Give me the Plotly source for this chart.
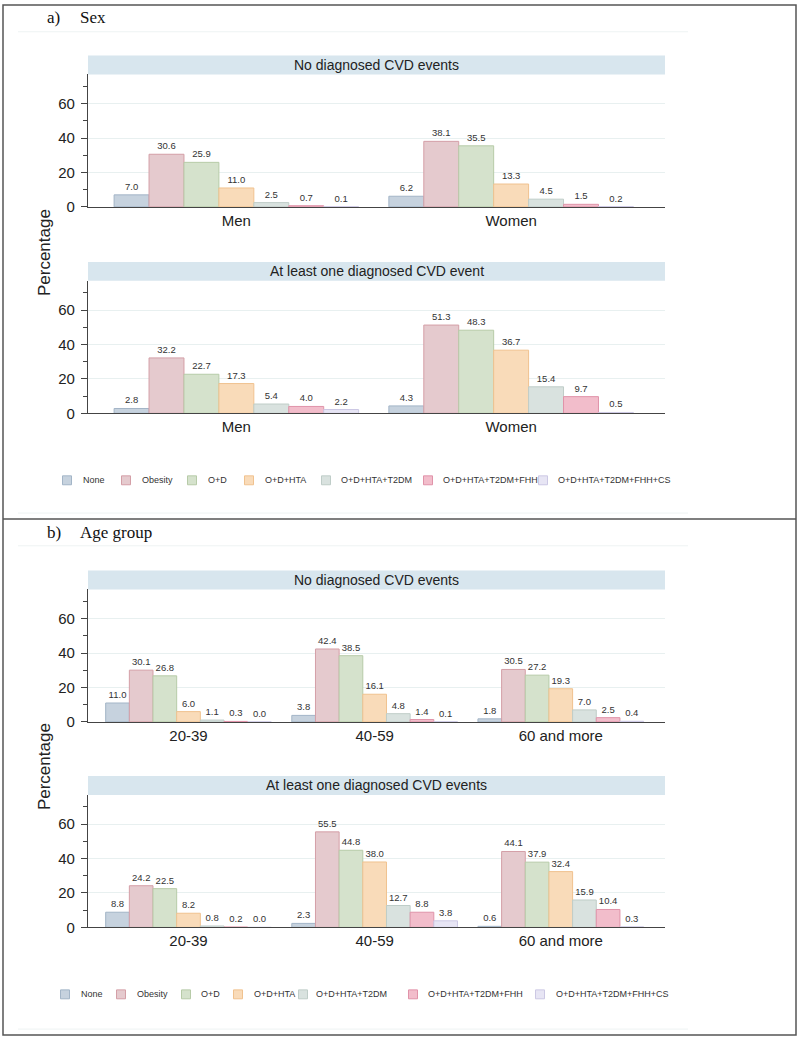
import plotly.graph_objects as go

# ---------------- data ----------------
series = ["None", "Obesity", "O+D", "O+D+HTA", "O+D+HTA+T2DM",
          "O+D+HTA+T2DM+FHH", "O+D+HTA+T2DM+FHH+CS"]

sex_cats = ["Men", "Women"]
age_cats = ["20-39", "40-59", "60 and more"]

# values per series (rows follow `series`), columns follow categories
sex_no_cvd = [
    [7.0, 6.2],
    [30.6, 38.1],
    [25.9, 35.5],
    [11.0, 13.3],
    [2.5, 4.5],
    [0.7, 1.5],
    [0.1, 0.2],
]
sex_cvd = [
    [2.8, 4.3],
    [32.2, 51.3],
    [22.7, 48.3],
    [17.3, 36.7],
    [5.4, 15.4],
    [4.0, 9.7],
    [2.2, 0.5],
]
age_no_cvd = [
    [11.0, 3.8, 1.8],
    [30.1, 42.4, 30.5],
    [26.8, 38.5, 27.2],
    [6.0, 16.1, 19.3],
    [1.1, 4.8, 7.0],
    [0.3, 1.4, 2.5],
    [0.0, 0.1, 0.4],
]
age_cvd = [
    [8.8, 2.3, 0.6],
    [24.2, 55.5, 44.1],
    [22.5, 44.8, 37.9],
    [8.2, 38.0, 32.4],
    [0.8, 12.7, 15.9],
    [0.2, 8.8, 10.4],
    [0.0, 3.8, 0.3],
]

y_ticks = [0, 20, 40, 60]

# ---------------- styles ----------------
fills = ["#c6d2de", "#e5cace", "#d5e2cc", "#f9dbb9", "#d9e2df", "#f2bdcb", "#e7e5f4"]
edges = ["#a3b5c7", "#d49fa7", "#b7cba8", "#f0c28f", "#bfcdc8", "#e093a9", "#ccc8e4"]
strip_fill = "#d8e6ee"
axis_col = "#444444"
grid_col = "#e8f0f0"
text_col = "#222222"
SANS = "Liberation Sans, Arial, sans-serif"
SERIF = "Liberation Serif, Times New Roman, serif"

W, H = 800, 1047
def px(x):
    return x / W
def py(y):
    return 1 - y / H

PLOT_L, PLOT_R = 88, 665
STRIP_H = 19
# (top, bottom) in pixels of each plot area
panels = [
    dict(cats=sex_cats, vals=sex_no_cvd, title="No diagnosed CVD events", top=75, bot=208.5),
    dict(cats=sex_cats, vals=sex_cvd, title="At least one diagnosed CVD event", top=283, bot=416.5),
    dict(cats=age_cats, vals=age_no_cvd, title="No diagnosed CVD events", top=594, bot=727.5),
    dict(cats=age_cats, vals=age_cvd, title="At least one diagnosed CVD events", top=801, bot=934.5),
]

fig = go.Figure()
layout = dict(
    width=W, height=H, autosize=False,
    margin=dict(l=0, r=0, t=0, b=0),
    paper_bgcolor="white", plot_bgcolor="white",
    barmode="group", bargap=0.11, bargroupgap=0,
    showlegend=False,
    font=dict(family=SANS, color=text_col),
)
shapes = []
annotations = []

for k, p in enumerate(panels, start=1):
    xa = "x" if k == 1 else f"x{k}"
    ya = "y" if k == 1 else f"y{k}"
    for i, name in enumerate(series):
        fig.add_trace(go.Bar(
            x=p["cats"], y=p["vals"][i], name=name,
            xaxis=xa, yaxis=ya, offsetgroup=str(i),
            marker=dict(color=fills[i], line=dict(color=edges[i], width=1)),
            texttemplate="%{y:.1f}", textposition="outside",
            textfont=dict(size=9.5, color="#333333", family=SANS),
            constraintext="none", cliponaxis=False,
            showlegend=False,
        ))
    n = len(p["cats"])
    layout["xaxis" if k == 1 else f"xaxis{k}"] = dict(
        domain=[px(PLOT_L), px(PLOT_R)], anchor=ya,
        type="category", range=[-0.54, n - 1 + 0.56],
        showline=True, linecolor=axis_col, linewidth=1.2,
        ticks="", showgrid=False, zeroline=False,
        tickfont=dict(size=15, color=text_col, family=SANS),
    )
    layout["yaxis" if k == 1 else f"yaxis{k}"] = dict(
        domain=[py(p["bot"]), py(p["top"])], anchor=xa,
        range=[0, 77], tickvals=y_ticks, ticktext=[str(t) for t in y_ticks],
        showline=True, linecolor=axis_col, linewidth=1.2,
        ticks="outside", ticklen=6, tickcolor=axis_col, tickwidth=1,
        minor=dict(dtick=10, tick0=0, ticks="outside", ticklen=4,
                   tickcolor=axis_col, showgrid=False),
        showgrid=True, gridcolor=grid_col, gridwidth=1, zeroline=False,
        tickfont=dict(size=15, color=text_col, family=SANS),
        ticklabelstandoff=3,
    )
    # header strip
    shapes.append(dict(type="rect", xref="paper", yref="paper",
                       x0=px(PLOT_L), x1=px(PLOT_R),
                       y0=py(p["top"]), y1=py(p["top"] - STRIP_H),
                       fillcolor=strip_fill, line=dict(width=0), layer="below"))
    annotations.append(dict(xref="paper", yref="paper",
                            x=px((PLOT_L + PLOT_R) / 2), y=py(p["top"] - STRIP_H / 2),
                            text=p["title"], showarrow=False,
                            font=dict(size=14, color=text_col, family=SANS),
                            xanchor="center", yanchor="middle"))

fig.update_layout(**layout)

# outer frame and separators
shapes.append(dict(type="rect", xref="paper", yref="paper",
                   x0=px(3), x1=px(796), y0=py(1043), y1=py(5),
                   line=dict(color="#555555", width=1.5)))
shapes.append(dict(type="line", xref="paper", yref="paper",
                   x0=px(3), x1=px(796), y0=py(523), y1=py(523),
                   line=dict(color="#555555", width=1.5)))
for yy in [32, 517, 550, 1037]:
    shapes.append(dict(type="line", xref="paper", yref="paper",
                       x0=px(18), x1=px(688), y0=py(yy), y1=py(yy),
                       line=dict(color="#eef3f3", width=1)))

# panel titles
for label, word, yy in [("a)", "Sex", 18), ("b)", "Age group", 537)]:
    annotations.append(dict(xref="paper", yref="paper", x=px(45), y=py(yy),
                            text=label, showarrow=False, xanchor="left", yanchor="middle",
                            font=dict(size=17, color="#111111", family=SERIF)))
    annotations.append(dict(xref="paper", yref="paper", x=px(78), y=py(yy),
                            text=word, showarrow=False, xanchor="left", yanchor="middle",
                            font=dict(size=17, color="#111111", family=SERIF)))

# y titles
for yy in [255, 773]:
    annotations.append(dict(xref="paper", yref="paper", x=px(44), y=py(yy),
                            text="Percentage", showarrow=False, textangle=-90,
                            xanchor="center", yanchor="middle",
                            font=dict(size=17, color=text_col, family=SANS)))

# legends (one per panel)
legend_rows = [
    dict(y=484, sq=[67, 126, 192, 249, 326, 428, 543], tx=[81, 140, 206, 263, 339, 441, 556]),
    dict(y=1002, sq=[65, 121, 186, 238, 303, 413, 540], tx=[79, 135, 199, 252, 314, 426, 554]),
]
for row in legend_rows:
    for i, name in enumerate(series):
        cx = row["sq"][i]
        shapes.append(dict(type="rect", xref="paper", yref="paper",
                           x0=px(cx - 4.5), x1=px(cx + 4.5),
                           y0=py(row["y"] + 4.5), y1=py(row["y"] - 4.5),
                           fillcolor=fills[i], line=dict(color=edges[i], width=1)))
        annotations.append(dict(xref="paper", yref="paper", x=px(row["tx"][i]), y=py(row["y"]),
                                text=name, showarrow=False, xanchor="left", yanchor="middle",
                                font=dict(size=9, color="#333333", family=SANS)))

fig.update_layout(shapes=shapes, annotations=annotations)
fig.write_html("out.html")
